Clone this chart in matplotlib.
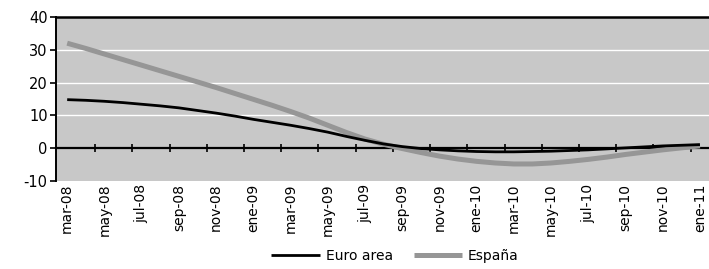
import numpy as np
import matplotlib.pyplot as plt

plt.rcParams['axes.unicode_minus'] = False

# months mar-08 .. ene-11 (35 monthly points)
meses = ['mar-08', 'abr-08', 'may-08', 'jun-08', 'jul-08', 'ago-08', 'sep-08', 'oct-08',
         'nov-08', 'dic-08', 'ene-09', 'feb-09', 'mar-09', 'abr-09', 'may-09', 'jun-09',
         'jul-09', 'ago-09', 'sep-09', 'oct-09', 'nov-09', 'dic-09', 'ene-10', 'feb-10',
         'mar-10', 'abr-10', 'may-10', 'jun-10', 'jul-10', 'ago-10', 'sep-10', 'oct-10',
         'nov-10', 'dic-10', 'ene-11']

euro_area = [14.8, 14.6, 14.3, 13.9, 13.4, 12.9, 12.3, 11.5, 10.7, 9.8, 8.8, 7.9,
             7.0, 6.0, 4.9, 3.6, 2.4, 1.3, 0.5, -0.1, -0.5, -0.8, -1.0, -1.1,
             -1.1, -1.0, -0.9, -0.7, -0.5, -0.2, 0.1, 0.4, 0.7, 0.9, 1.1]

espana = [32.0, 30.4, 28.7, 27.0, 25.3, 23.6, 21.9, 20.2, 18.5, 16.7, 14.9, 13.1,
          11.2, 9.2, 7.0, 4.8, 2.8, 1.2, -0.1, -1.3, -2.4, -3.3, -4.0, -4.5,
          -4.8, -4.8, -4.5, -4.0, -3.4, -2.7, -1.9, -1.2, -0.5, 0.1, 0.7]

yticks = [-10, 0, 10, 20, 30, 40]

x = np.arange(len(meses))

fig = plt.figure(figsize=(7.09, 2.69), dpi=100)
ax = fig.add_axes([0.079, 0.327, 0.924, 0.61])
ax.set_facecolor('#c8c8c8')

# white grid lines
for y in [10, 20, 30]:
    ax.axhline(y, color='white', lw=1.0, zorder=1)

ax.plot(x, espana, color='#969696', lw=3.6, label='España', zorder=3, solid_capstyle='butt')
ax.plot(x, euro_area, color='black', lw=2.0, label='Euro area', zorder=4, solid_capstyle='butt')

ax.set_xlim(-0.6, len(meses) - 0.4)
ax.set_ylim(-10, 40)
ax.set_yticks(yticks)
ax.tick_params(axis='y', direction='out', length=4, width=1.2, labelsize=10.5, pad=2)

ax.set_xticks(x[::2])
ax.set_xticklabels(meses[::2], rotation=90, fontsize=10)
ax.tick_params(axis='x', length=0, pad=2)

for s in ['right', 'bottom']:
    ax.spines[s].set_visible(False)
ax.spines['left'].set_linewidth(1.4)
ax.spines['top'].set_linewidth(1.8)

# zero axis with tick marks between label pairs
sec = ax.secondary_xaxis(0.2)
sec.set_xticks(x[1:-1:2] + 0.5)
sec.set_xticklabels([])
sec.tick_params(direction='inout', length=6, width=1.2)
sec.spines['bottom'].set_linewidth(1.6)

h, l = ax.get_legend_handles_labels()
fig.legend(h[::-1], l[::-1], loc='center', bbox_to_anchor=(0.557, 0.05), ncol=2,
           frameon=False, fontsize=10, handlelength=3.5, columnspacing=1.5,
           handletextpad=0.4)

plt.savefig('out.png')
